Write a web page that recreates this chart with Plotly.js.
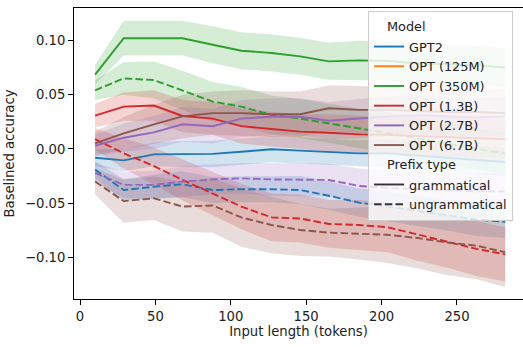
<!DOCTYPE html>
<html>
<head>
<meta charset="utf-8">
<script src="https://cdn.plot.ly/plotly-3.0.1.min.js"></script>
<style>html,body{margin:0;padding:0;background:#fff;}#chart{width:523px;height:347px;}</style>
</head>
<body>
<div id="chart"></div>
<script>
// Input length (tokens) at each point
const inputLength = [10, 29, 49, 68, 88, 107, 127, 146, 165, 185, 204, 224, 243, 263, 282];

const modelNames = ["GPT2", "OPT (125M)", "OPT (350M)", "OPT (1.3B)", "OPT (2.7B)", "OPT (6.7B)"];
const modelColors = ["#1f77b4", "#ff7f0e", "#2ca02c", "#d62728", "#9467bd", "#8c564b"];
const bandColors = ["rgba(31,119,180,0.2)", "rgba(255,127,14,0.2)", "rgba(44,160,44,0.2)", "rgba(214,39,40,0.2)", "rgba(148,103,189,0.2)", "rgba(140,86,75,0.2)"];
const prefixNames = ["grammatical", "ungrammatical"];
const legendTitles = ["Model", "Prefix type"];

// Mean baselined accuracy
const gpt2Gram   = [-0.008, -0.0105, -0.005, -0.0046, -0.0045, -0.0025, -0.0003, -0.0015, -0.0025, -0.004, -0.004, -0.006, -0.008, -0.010, -0.012];
const gpt2Ungram = [-0.019, -0.0378, -0.0347, -0.0325, -0.0378, -0.037, -0.037, -0.0378, -0.043, -0.0494, -0.053, -0.057, -0.061, -0.065, -0.067];
const opt350Gram   = [0.0684, 0.102, 0.102, 0.102, 0.096, 0.0905, 0.0884, 0.0853, 0.0807, 0.0816, 0.081, 0.079, 0.078, 0.077, 0.075];
const opt350Ungram = [0.054, 0.065, 0.0635, 0.054, 0.0436, 0.039, 0.0313, 0.028, 0.0237, 0.019, 0.015, 0.010, 0.005, 0.000, -0.004];
const opt13Gram   = [0.0307, 0.039, 0.040, 0.0304, 0.028, 0.021, 0.0184, 0.016, 0.015, 0.0135, 0.013, 0.012, 0.011, 0.010, 0.009];
const opt13Ungram = [0.009, -0.004, -0.0157, -0.0285, -0.041, -0.053, -0.063, -0.064, -0.069, -0.070, -0.072, -0.079, -0.085, -0.092, -0.097];
const opt27Gram   = [0.003, 0.0104, 0.0153, 0.0227, 0.021, 0.028, 0.0297, 0.0297, 0.026, 0.028, 0.030, 0.031, 0.030, 0.029, 0.030];
const opt27Ungram = [-0.022, -0.033, -0.033, -0.030, -0.028, -0.027, -0.028, -0.0285, -0.0285, -0.034, -0.036, -0.037, -0.038, -0.039, -0.039];
const opt67Gram   = [0.0052, 0.0144, 0.0227, 0.030, 0.033, 0.033, 0.032, 0.032, 0.0375, 0.036, 0.036, 0.035, 0.034, 0.034, 0.033];
const opt67Ungram = [-0.030, -0.048, -0.0454, -0.053, -0.052, -0.063, -0.070, -0.0746, -0.077, -0.0777, -0.079, -0.082, -0.086, -0.089, -0.095];

// Confidence-interval half widths
const gpt2GramCI   = [0.008, 0.010, 0.011, 0.012, 0.012, 0.012, 0.012, 0.012, 0.012, 0.012, 0.013, 0.013, 0.013, 0.013, 0.013];
const gpt2UngramCI = [0.008, 0.010, 0.011, 0.012, 0.012, 0.012, 0.012, 0.013, 0.013, 0.013, 0.014, 0.014, 0.014, 0.015, 0.015];
const opt350GramCI   = [0.009, 0.016, 0.016, 0.016, 0.017, 0.017, 0.017, 0.017, 0.017, 0.018, 0.018, 0.018, 0.018, 0.018, 0.018];
const opt350UngramCI = [0.009, 0.015, 0.017, 0.018, 0.018, 0.018, 0.018, 0.018, 0.018, 0.018, 0.019, 0.019, 0.019, 0.019, 0.019];
const opt13GramCI   = [0.011, 0.013, 0.014, 0.015, 0.015, 0.016, 0.016, 0.016, 0.017, 0.017, 0.017, 0.017, 0.018, 0.018, 0.018];
const opt13UngramCI = [0.010, 0.014, 0.017, 0.019, 0.020, 0.021, 0.022, 0.022, 0.022, 0.023, 0.023, 0.024, 0.024, 0.025, 0.025];
const opt27GramCI   = [0.010, 0.013, 0.015, 0.016, 0.016, 0.017, 0.017, 0.017, 0.017, 0.018, 0.018, 0.018, 0.018, 0.018, 0.018];
const opt27UngramCI = [0.009, 0.012, 0.013, 0.014, 0.014, 0.014, 0.015, 0.015, 0.015, 0.016, 0.016, 0.016, 0.016, 0.017, 0.017];
const opt67GramCI   = [0.011, 0.015, 0.018, 0.020, 0.020, 0.021, 0.021, 0.021, 0.021, 0.022, 0.022, 0.022, 0.022, 0.022, 0.022];
const opt67UngramCI = [0.012, 0.020, 0.020, 0.023, 0.025, 0.027, 0.026, 0.024, 0.022, 0.024, 0.026, 0.028, 0.030, 0.031, 0.032];

const yTickVals = [-0.10, -0.05, 0.00, 0.05, 0.10];
const yTickText = ["\u22120.10", "\u22120.05", "0.00", "0.05", "0.10"];
const xTickVals = [0, 50, 100, 150, 200, 250];

const series = [
  {m: 0, y: gpt2Gram, ci: gpt2GramCI, dash: false},
  {m: 0, y: gpt2Ungram, ci: gpt2UngramCI, dash: true},
  {m: 2, y: opt350Gram, ci: opt350GramCI, dash: false},
  {m: 2, y: opt350Ungram, ci: opt350UngramCI, dash: true},
  {m: 3, y: opt13Gram, ci: opt13GramCI, dash: false},
  {m: 3, y: opt13Ungram, ci: opt13UngramCI, dash: true},
  {m: 4, y: opt27Gram, ci: opt27GramCI, dash: false},
  {m: 4, y: opt27Ungram, ci: opt27UngramCI, dash: true},
  {m: 5, y: opt67Gram, ci: opt67GramCI, dash: false},
  {m: 5, y: opt67Ungram, ci: opt67UngramCI, dash: true}
];

const DASH = "7.5px,3.2px";
const LW = 1.9;
const FS = 13.2;
const LFS = 12.85;
const traces = [];
// bands first (drawn below all lines)
series.forEach(s => {
  const up = s.y.map((v, i) => v + s.ci[i]);
  const lo = s.y.map((v, i) => v - s.ci[i]);
  traces.push({
    type: "scatter", mode: "lines",
    x: inputLength.concat(inputLength.slice().reverse()),
    y: up.concat(lo.slice().reverse()),
    fill: "toself", fillcolor: bandColors[s.m],
    line: {width: 0, color: "rgba(0,0,0,0)"},
    hoverinfo: "skip", showlegend: false
  });
});
series.forEach(s => {
  traces.push({
    type: "scatter", mode: "lines",
    x: inputLength, y: s.y,
    line: {color: modelColors[s.m], width: LW, dash: s.dash ? DASH : "solid"},
    showlegend: false
  });
});
// legend entries (title rows are blank entries; their text is an annotation)
function blankEntry(k) {
  traces.push({type: "scatter", mode: "lines", x: [null], y: [null], name: " ",
    line: {color: "rgba(0,0,0,0)", width: 0}, showlegend: true, legendrank: k});
}
let rank = 1;
blankEntry(rank++);
modelNames.forEach((name, i) => {
  traces.push({type: "scatter", mode: "lines", x: [null], y: [null], name: name,
    line: {color: modelColors[i], width: LW}, showlegend: true, legendrank: rank++});
});
blankEntry(rank++);
prefixNames.forEach((name, i) => {
  traces.push({type: "scatter", mode: "lines", x: [null], y: [null], name: name,
    line: {color: "#333333", width: LW, dash: i === 1 ? DASH : "solid"}, showlegend: true, legendrank: rank++});
});

const FONT = "DejaVu Sans, sans-serif";
const TXT = "#222";
const layout = {
  width: 523, height: 347,
  margin: {l: 74, r: 0, t: 8, b: 48},
  paper_bgcolor: "#fff", plot_bgcolor: "#fff",
  font: {family: FONT, size: FS, color: TXT},
  showlegend: true,
  xaxis: {
    range: [-3.98, 293.8], tickvals: xTickVals, ticks: "outside", ticklen: 5, tickwidth: 1, tickcolor: "#000",
    showline: true, linecolor: "#000", linewidth: 1, mirror: true, showgrid: false, zeroline: false,
    tickfont: {family: FONT, size: FS, color: TXT},
    title: {text: "Input length (tokens)", font: {family: FONT, size: FS, color: TXT}, standoff: 3}
  },
  yaxis: {
    range: [-0.1381, 0.1298], tickvals: yTickVals, ticktext: yTickText, ticks: "outside", ticklen: 5, tickwidth: 1, tickcolor: "#000",
    showline: true, linecolor: "#000", linewidth: 1, showgrid: false, zeroline: false,
    tickfont: {family: FONT, size: FS, color: TXT},
    title: {text: "Baselined accuracy", font: {family: FONT, size: FS, color: TXT}, standoff: 7}
  },
  legend: {
    x: 0.655, y: 0.9897, xanchor: "left", yanchor: "top",
    bgcolor: "rgba(255,255,255,0.8)", bordercolor: "#cccccc", borderwidth: 1,
    font: {family: FONT, size: LFS, color: TXT},
    tracegroupgap: 0, itemwidth: 30, traceorder: "normal"
  },
  annotations: [
    {text: legendTitles[0], xref: "paper", yref: "paper", x: 0.6927, y: 0.9354, xanchor: "left", yanchor: "middle", showarrow: false, font: {family: FONT, size: LFS, color: TXT}},
    {text: legendTitles[1], xref: "paper", yref: "paper", x: 0.6927, y: 0.4615, xanchor: "left", yanchor: "middle", showarrow: false, font: {family: FONT, size: LFS, color: TXT}}
  ]
};

Plotly.newPlot("chart", traces, layout, {staticPlot: true, displayModeBar: false});
</script>
</body>
</html>
